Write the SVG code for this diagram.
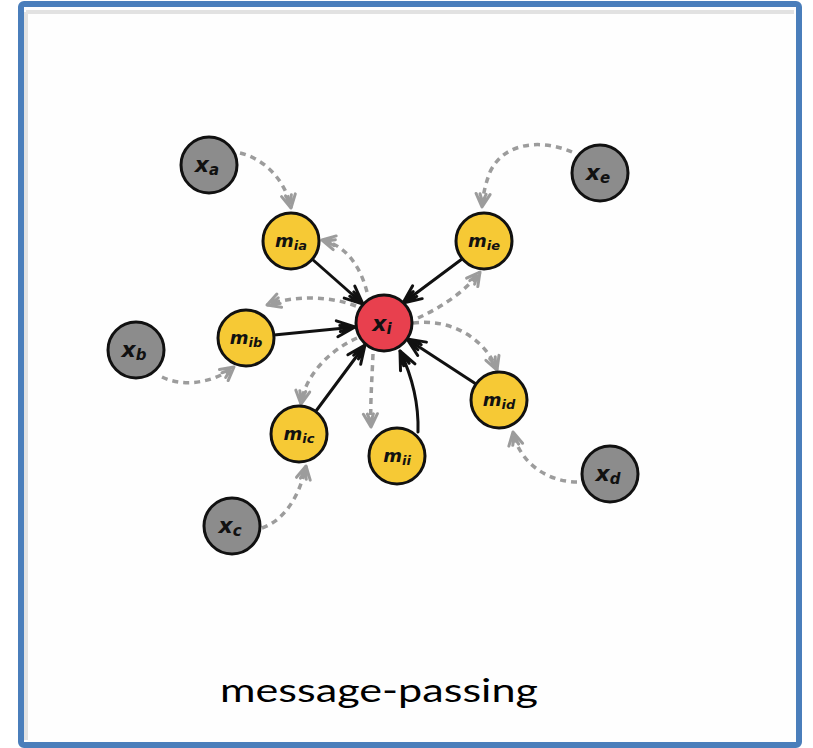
<svg xmlns="http://www.w3.org/2000/svg" width="813" height="748" viewBox="0 0 813 748">
<defs>
<style>
.frame{fill:#fefefe;stroke:#4a7ebb;stroke-width:6}
.shadow{fill:none;stroke:#e2e2e2;stroke-width:4}
.node{stroke:#111;stroke-width:3}
.red{fill:#e8404e}
.yel{fill:#f6c935}
.gry{fill:#8c8c8c}
.lbl{font-family:"DejaVu Sans",sans-serif;font-weight:bold;font-style:italic;fill:#111;text-anchor:middle}
.solid{fill:none;stroke:#111;stroke-width:3;stroke-linecap:round;marker-end:url(#ah)}
.dash{fill:none;stroke:#9c9c9c;stroke-width:3.5;stroke-dasharray:6 5;marker-end:url(#gh)}
.cap{font-family:"Lato","Liberation Sans",sans-serif;font-size:33px;fill:#000}
</style>
<marker id="ah" markerUnits="userSpaceOnUse" markerWidth="22" markerHeight="22" viewBox="0 0 22 22" refX="20" refY="11" orient="auto">
<path d="M2,3 L20,11 L2,19 M5,8 L20,11 L5,14" fill="none" stroke="#111" stroke-width="3" stroke-linecap="round" stroke-linejoin="round"/>
</marker>
<marker id="gh" markerUnits="userSpaceOnUse" markerWidth="18" markerHeight="18" viewBox="0 0 18 18" refX="16" refY="9" orient="auto">
<path d="M3,2 L16,9 L3,16 M3,6 L11,9 L3,12" fill="none" stroke="#9c9c9c" stroke-width="3" stroke-linecap="round" stroke-linejoin="round"/>
</marker>
</defs>
<rect class="frame" x="21" y="4" width="778" height="741" rx="3"/>
<path class="shadow" d="M26,12 H794 M26,12 V740"/>

<g id="connectors">
<!-- solid message arrows into x_i -->
<path class="solid" d="M312,259 L363,304"/>
<path class="solid" d="M462,259 L403,303"/>
<path class="solid" d="M274,335 L355,327"/>
<path class="solid" d="M316,411 L365,345"/>
<path class="solid" d="M418,432 C419,400 410,372 400,351"/>
<path class="solid" d="M476,384 L407,339"/>
<!-- dashed -->
<path class="dash" d="M240,153 C262,158 285,178 291,208"/>
<path class="dash" d="M367,292 C360,265 345,245 322,240"/>
<path class="dash" d="M572,152 C545,140 505,140 490,172 C485,185 483,195 482,207"/>
<path class="dash" d="M418,318 C440,308 465,292 480,272"/>
<path class="dash" d="M356,306 C330,296 295,295 267,305"/>
<path class="dash" d="M162,377 C185,388 215,382 234,367"/>
<path class="dash" d="M357,338 C330,350 305,375 301,404"/>
<path class="dash" d="M262,528 C285,520 300,495 306,466"/>
<path class="dash" d="M373,354 C372,380 370,405 371,427"/>
<path class="dash" d="M413,323 C450,318 485,338 497,370"/>
<path class="dash" d="M577,482 C550,482 520,465 513,432"/>
</g>

<g id="xi"><circle class="node red" cx="384" cy="323" r="28"/><text class="lbl" x="382" y="331" font-size="22">x<tspan font-size="15" dy="3">i</tspan></text></g>
<g id="mia"><circle class="node yel" cx="291" cy="241" r="28"/><text class="lbl" x="291" y="247" font-size="18">m<tspan font-size="13" dy="3">ia</tspan></text></g>
<g id="mie"><circle class="node yel" cx="484" cy="241" r="28"/><text class="lbl" x="484" y="247" font-size="18">m<tspan font-size="13" dy="3">ie</tspan></text></g>
<g id="mib"><circle class="node yel" cx="246" cy="338" r="28"/><text class="lbl" x="246" y="344" font-size="18">m<tspan font-size="13" dy="3">ib</tspan></text></g>
<g id="mic"><circle class="node yel" cx="299" cy="434" r="28"/><text class="lbl" x="299" y="440" font-size="18">m<tspan font-size="13" dy="3">ic</tspan></text></g>
<g id="mii"><circle class="node yel" cx="397" cy="456" r="28"/><text class="lbl" x="397" y="462" font-size="18">m<tspan font-size="13" dy="3">ii</tspan></text></g>
<g id="mid"><circle class="node yel" cx="499" cy="400" r="28"/><text class="lbl" x="499" y="406" font-size="18">m<tspan font-size="13" dy="3">id</tspan></text></g>
<g id="xa"><circle class="node gry" cx="209" cy="165" r="28"/><text class="lbl" x="207" y="172" font-size="22">x<tspan font-size="15" dy="3">a</tspan></text></g>
<g id="xe"><circle class="node gry" cx="600" cy="173" r="28"/><text class="lbl" x="598" y="180" font-size="22">x<tspan font-size="15" dy="3">e</tspan></text></g>
<g id="xb"><circle class="node gry" cx="136" cy="350" r="28"/><text class="lbl" x="134" y="357" font-size="22">x<tspan font-size="15" dy="3">b</tspan></text></g>
<g id="xc"><circle class="node gry" cx="232" cy="526" r="28"/><text class="lbl" x="230" y="533" font-size="22">x<tspan font-size="15" dy="3">c</tspan></text></g>
<g id="xd"><circle class="node gry" cx="610" cy="474" r="28"/><text class="lbl" x="608" y="481" font-size="22">x<tspan font-size="15" dy="3">d</tspan></text></g>

<text class="cap" x="220" y="702" textLength="318" lengthAdjust="spacingAndGlyphs">message-passing</text>
</svg>
